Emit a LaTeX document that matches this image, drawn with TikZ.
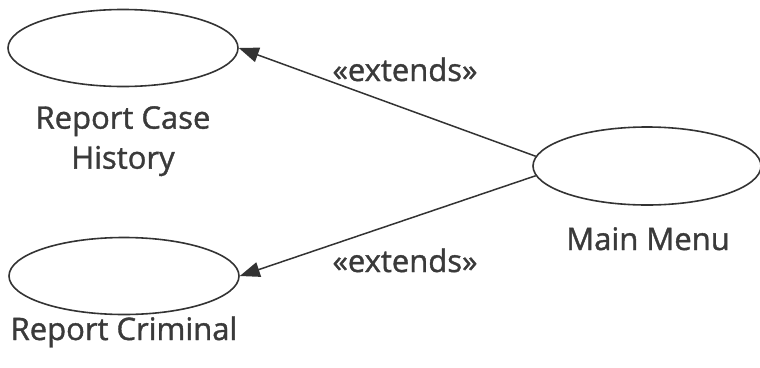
\documentclass[tikz,border=0pt]{standalone}
\usepackage{fontspec}
\setmainfont{Open Sans}
\newfontfamily\capfont{Open Sans}[UprightFeatures={FakeBold=1.2}]
\usetikzlibrary{shapes.geometric,arrows.meta}
\definecolor{ink}{HTML}{333333}
\definecolor{txt}{HTML}{3A3A3A}
\tikzset{
  usecase/.style={draw=ink, line width=1.6pt, ellipse, inner sep=0pt,
    minimum width=230pt, minimum height=77pt},
  caption/.style={text=txt, font=\capfont\fontsize{31}{40}\selectfont, align=center, inner sep=0pt},
  stereo/.style={text=txt, font=\capfont\fontsize{31}{36}\selectfont, inner sep=0pt, anchor=base},
  extends/.style={draw=ink, line width=1.5pt, -{Triangle[length=20pt,width=15pt]}}
}
\begin{document}
\begin{tikzpicture}[x=1pt,y=-1pt]
  \useasboundingbox (0,0) rectangle (760,367);
  % use cases
  \node[usecase] (rch) at (123,48) {};
  \node[usecase] (rc)  at (124,276) {};
  \node[usecase, minimum width=228pt, minimum height=78pt] (mm) at (647,166) {};
  % captions
  \node[caption, anchor=north] (rchlbl) at (123,106) {Report Case\\History};
  \node[caption, anchor=base] (rclbl) at (124,340) {Report Criminal};
  \node[caption, anchor=base] (mmlbl) at (648,250) {Main Menu};
  % extend relations
  \draw[extends] (mm.175) -- (rch.east);
  \draw[extends] (mm.185) -- (rc.east);
  \node[stereo] (ext1) at (405,81) {«extends»};
  \node[stereo] (ext2) at (405,272) {«extends»};
\end{tikzpicture}
\end{document}
